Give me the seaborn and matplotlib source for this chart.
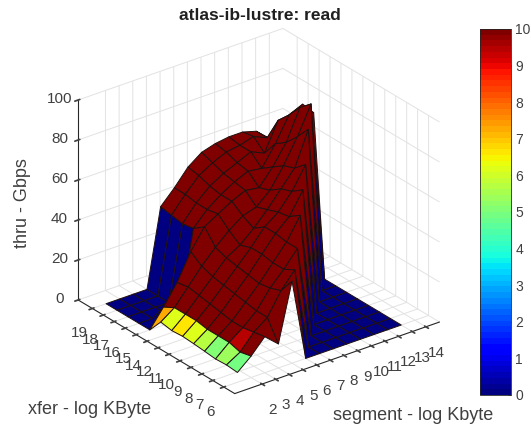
import numpy as np
import seaborn as sns
import matplotlib
matplotlib.use('Agg')
import matplotlib.pyplot as plt
from matplotlib.colors import Normalize
from matplotlib.cm import ScalarMappable

segment_labels = [2, 3, 4, 5, 6, 7, 8, 9, 10, 11, 12, 13, 14]
xfer_labels = [6, 7, 8, 9, 10, 11, 12, 14, 15, 16, 17, 18, 19]
thru_ticks = [0, 20, 40, 60, 80, 100]
color_ticks = [0, 1, 2, 3, 4, 5, 6, 7, 8, 9, 10]

segment = [1, 2, 3, 4, 5, 6, 7, 8, 9, 10, 11, 12, 13]

# one row per xfer label, one column per segment value
thru_6 = [4.9, 10.7, 18, 12, 41, 0, 0, 0, 0, 0, 0, 0, 0]
thru_7 = [5.4, 9.4, 17, 22, 33, 41, 0, 0, 0, 0, 0, 0, 0]
thru_8 = [5.1, 11, 16, 22, 31, 38, 46, 0, 0, 0, 0, 0, 0]
thru_9 = [5.7, 11, 16, 23, 30, 38, 46, 57, 0, 0, 0, 0, 0]
thru_10 = [6.2, 11, 17, 24, 31, 39, 47, 53, 64, 0, 0, 0, 0]
thru_11 = [6.6, 12, 18, 25, 32, 39, 47, 52, 60, 71, 0, 0, 0]
thru_12 = [6.2, 12, 19, 26, 33, 37, 43, 50, 58, 66, 83, 0, 0]
thru_14 = [7.2, 12, 20, 28, 35, 41, 46, 48, 54, 64, 76, 90, 0]
thru_15 = [0, 9, 19, 32, 42, 46, 50, 53, 52, 60, 70, 85, 80]
thru_16 = [0, 0, 0, 0, 38, 45, 50, 54, 57, 56, 66, 78, 81]
thru_17 = [0, 0, 0, 0, 37, 45, 51, 55, 58, 61, 58, 72, 72]
thru_18 = [0, 0, 0, 0, 38, 46, 53, 57, 60, 61, 63, 60, 63]
thru_19 = [0, 0, 0, 0, 39, 46, 54, 59, 61, 62, 62, 60, 54]

thru = np.array([thru_6, thru_7, thru_8, thru_9, thru_10, thru_11, thru_12,
                 thru_14, thru_15, thru_16, thru_17, thru_18, thru_19])

sns.set_theme(style='white')
plt.rcParams['font.family'] = ['Liberation Sans', 'DejaVu Sans']
text_color = '#404040'
jet = matplotlib.colormaps['jet'].resampled(64)
norm = Normalize(0, 10)

fig = plt.figure(figsize=(5.31, 4.28), dpi=100)
ax = fig.add_axes([0.027, 0.014, 0.90, 0.96], projection='3d', computed_zorder=False)
ax.set_proj_type('ortho')
ax.view_init(elev=27.2, azim=-127.4)
ax.set_box_aspect((258, 258, 225), zoom=1.012)

X, Y = np.meshgrid(segment, np.arange(len(xfer_labels)))

# colour of a cell comes from its first corner, so the walls stay blue
cell_values = thru.copy()
cell_values[8, 1] = 0  # this cell is part of the blue wall in the picture
ax.plot_surface(X, Y, thru, rstride=1, cstride=1,
                facecolors=jet(norm(cell_values)), shade=False,
                edgecolor='#201010', linewidth=0.7)

ax.set_xlim(0, 15)
ax.set_ylim(-1, 13.3)
ax.set_zlim(0, 100)
ax.set_xticks(segment_labels)
ax.set_xticklabels(segment_labels)
ax.set_yticks(range(len(xfer_labels)))
ax.set_yticklabels(xfer_labels)
ax.set_zticks(thru_ticks)

for axis in [ax.xaxis, ax.yaxis, ax.zaxis]:
    axis.set_pane_color((1, 1, 1, 1))
    axis.pane.set_edgecolor('white')
    axis.line.set_color('#262626')
    axis.line.set_linewidth(0.8)
    axis._axinfo['grid']['color'] = '#e2e2e2'
    axis._axinfo['grid']['linewidth'] = 0.7
    axis._axinfo['tick']['color'] = '#262626'
ax.grid(True)
ax.tick_params(axis='x', labelsize=11, colors=text_color, pad=2)
ax.tick_params(axis='y', labelsize=11, colors=text_color, pad=2)
ax.tick_params(axis='z', labelsize=11, colors=text_color, pad=0)
for label in ax.get_zticklabels():
    label.set_verticalalignment('center')

fig.text(260 / 531, 1 - 16 / 428, 'atlas-ib-lustre: read', ha='center', va='center',
         fontsize=12.5, fontweight='bold', color='#202020')
fig.text(90 / 531, 1 - 409 / 428, 'xfer - log KByte', ha='center', va='center',
         fontsize=13, color=text_color)
fig.text(413 / 531, 1 - 415 / 428, 'segment - log Kbyte', ha='center', va='center',
         fontsize=13, color=text_color)
fig.text(23 / 531, 1 - 203 / 428, 'thru - Gbps', ha='center', va='center',
         rotation=90, fontsize=13, color=text_color)

cax = fig.add_axes([480 / 531, 1 - 395 / 428, 31 / 531, 366 / 428])
cbar = fig.colorbar(ScalarMappable(norm=norm, cmap=jet), cax=cax, ticks=color_ticks)
cbar.ax.tick_params(labelsize=10, colors=text_color, length=2, width=0.6, pad=3, direction='in')
cbar.outline.set_linewidth(0.6)

fig.savefig('out.png', dpi=100)
